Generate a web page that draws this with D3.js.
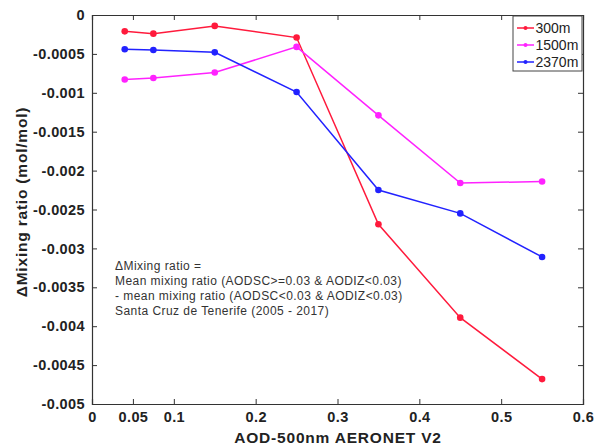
<!DOCTYPE html>
<html><head><meta charset="utf-8">
<script src="https://cdn.jsdelivr.net/npm/d3@7"></script>
<style>body{margin:0;background:#fff;}svg{display:block;font-family:"Liberation Sans",Arial,sans-serif;}</style>
</head><body>
<svg id="c" width="595" height="448"></svg>
<script>
const aod = [0.04, 0.075, 0.15, 0.25, 0.35, 0.45, 0.55];
const s300 = [-0.00021, -0.00024, -0.00014, -0.00029, -0.00269, -0.00389, -0.00468];
const s1500 = [-0.00083, -0.00081, -0.00074, -0.00041, -0.00129, -0.00216, -0.00214];
const s2370 = [-0.00044, -0.00045, -0.00048, -0.00099, -0.00225, -0.00255, -0.00311];
const seriesNames = ["300m", "1500m", "2370m"];
const seriesColors = ["#ff1a3c", "#ff22ff", "#2222ff"];
const xTicks = [0, 0.05, 0.1, 0.2, 0.3, 0.4, 0.5, 0.6];
const yTicks = [0, -0.0005, -0.001, -0.0015, -0.002, -0.0025, -0.003, -0.0035, -0.004, -0.0045, -0.005];
const noteLines = ["\u0394Mixing ratio =", "Mean mixing ratio (AODSC>=0.03 & AODIZ<0.03)", "- mean mixing ratio (AODSC<0.03 & AODIZ<0.03)", "Santa Cruz de Tenerife (2005 - 2017)"];

const svg = d3.select("#c");
const L = 92, R = 583, T = 15, B = 404;
const x = d3.scaleLinear().domain([0, 0.6]).range([L, R]);
const y = d3.scaleLinear().domain([-0.005, 0]).range([B, T]);
const fmt = d => d === 0 ? "0" : String(+d.toPrecision(3));

// axes
const gx = svg.append("g").attr("transform", `translate(0,${B})`)
  .call(d3.axisBottom(x).tickValues(xTicks).tickSize(-5).tickPadding(8).tickFormat(fmt));
const gxt = svg.append("g").attr("transform", `translate(0,${T})`)
  .call(d3.axisTop(x).tickValues(xTicks).tickSize(-5).tickFormat(""));
const gy = svg.append("g").attr("transform", `translate(${L},0)`)
  .call(d3.axisLeft(y).tickValues(yTicks).tickSize(-5).tickPadding(7).tickFormat(fmt));
const gyr = svg.append("g").attr("transform", `translate(${R},0)`)
  .call(d3.axisRight(y).tickValues(yTicks).tickSize(-5).tickFormat(""));
[gx, gxt, gy, gyr].forEach(g => {
  g.selectAll("path").attr("stroke", "#333").attr("stroke-width", 1.2);
  g.selectAll("line").attr("stroke", "#333");
  g.selectAll("text").attr("fill", "#222").style("font-size", "14.5px")
    .style("font-weight", "bold").style("letter-spacing", "0.4px");
});

const line = d3.line().x((d, i) => x(aod[i])).y(d => y(d));
[s300, s1500, s2370].forEach((s, k) => {
  svg.append("path").datum(s).attr("d", line).attr("fill", "none")
    .attr("stroke", seriesColors[k]).attr("stroke-width", 1.5);
  svg.selectAll(null).data(s).enter().append("circle")
    .attr("cx", (d, i) => x(aod[i])).attr("cy", d => y(d)).attr("r", 3.3)
    .attr("fill", seriesColors[k]);
});

// legend
const lg = svg.append("g");
lg.append("rect").attr("x", 513).attr("y", 16).attr("width", 69).attr("height", 55)
  .attr("fill", "#fff").attr("stroke", "#444").attr("stroke-width", 1);
seriesNames.forEach((n, k) => {
  const yy = 28 + k * 17;
  lg.append("line").attr("x1", 517).attr("x2", 534).attr("y1", yy).attr("y2", yy)
    .attr("stroke", seriesColors[k]).attr("stroke-width", 1.5);
  lg.append("circle").attr("cx", 525.5).attr("cy", yy).attr("r", 2).attr("fill", seriesColors[k]);
  lg.append("text").attr("x", 535.5).attr("y", yy + 5).text(n)
    .style("font-size", "14px").attr("fill", "#222");
});

// note
svg.append("g").selectAll("text").data(noteLines).enter().append("text")
  .attr("x", 115).attr("y", (d, i) => 270 + i * 15).text(d => d)
  .style("font-size", "12px").style("letter-spacing", "0.45px").attr("fill", "#333");

// labels
svg.append("text").attr("x", 338).attr("y", 443).attr("text-anchor", "middle")
  .text("AOD-500nm AERONET V2").style("font-size", "15.5px").style("font-weight", "bold")
  .style("letter-spacing", "0.8px").attr("fill", "#222");
svg.append("text").attr("transform", "translate(27,202) rotate(-90)").attr("text-anchor", "middle")
  .text("\u0394Mixing ratio (mol/mol)").style("font-size", "15.5px").style("font-weight", "bold")
  .style("letter-spacing", "0.8px").attr("fill", "#222");
</script>
</body></html>
